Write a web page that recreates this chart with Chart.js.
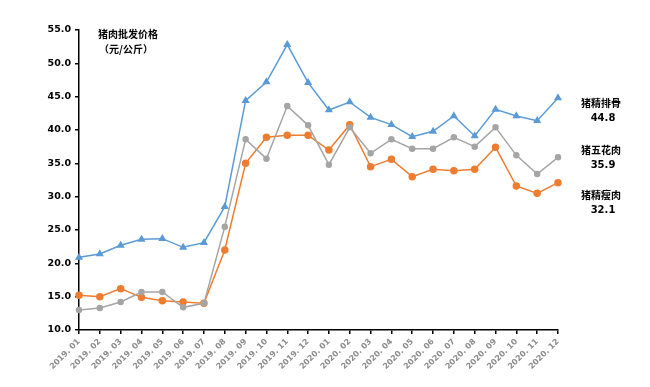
<!DOCTYPE html>
<html>
<head>
<meta charset="utf-8">
<script src="https://cdn.jsdelivr.net/npm/chart.js@4.4.1/dist/chart.umd.min.js"></script>
<style>
  html, body { margin: 0; padding: 0; background: #fff; }
  #wrap { width: 650px; height: 387px; position: relative; }
</style>
</head>
<body>
<div id="wrap"><canvas id="chart"></canvas></div>
<script>
// Chart data
const months = ['2019.01', '2019.02', '2019.03', '2019.04', '2019.05', '2019.06', '2019.07', '2019.08',
    '2019.09', '2019.10', '2019.11', '2019.12', '2020.01', '2020.02', '2020.03', '2020.04',
    '2020.05', '2020.06', '2020.07', '2020.08', '2020.09', '2020.10', '2020.11', '2020.12'];
const ribs = [20.9, 21.4, 22.7, 23.6, 23.7, 22.4, 23.1, 28.5, 44.4, 47.2, 52.8, 47.1,
    43.0, 44.2, 41.9, 40.8, 39.0, 39.8, 42.1, 39.1, 43.1, 42.1, 41.4, 44.8];
const belly = [13.0, 13.3, 14.2, 15.7, 15.7, 13.4, 14.0, 25.5, 38.6, 35.7, 43.6, 40.7,
    34.8, 40.4, 36.5, 38.6, 37.2, 37.2, 38.9, 37.5, 40.4, 36.2, 33.4, 35.9];
const lean = [15.2, 15.0, 16.2, 14.9, 14.4, 14.2, 14.0, 22.0, 35.0, 38.9, 39.2, 39.2,
    37.0, 40.8, 34.5, 35.6, 33.0, 34.1, 33.9, 34.1, 37.4, 31.6, 30.5, 32.1];
const seriesNames = ['猪精排骨', '猪五花肉', '猪精瘦肉'];
const yTicks = [10, 15, 20, 25, 30, 35, 40, 45, 50, 55];

const labelFont = 'bold 10px "Noto Sans CJK SC", sans-serif';

// Text labels: chart title and end-of-line series names
const annotations = {
    id: 'annotations',
    afterDraw(chart) {
        const ctx = chart.ctx;
        const y = chart.scales.y;
        ctx.save();
        ctx.fillStyle = '#000';
        ctx.textAlign = 'center';
        ctx.textBaseline = 'middle';
        ctx.font = labelFont;
        ctx.fillText('猪肉批发价格', 128, 34);
        ctx.fillText('（元/公斤）', 126, 49);

        const offsets = [5, -7, 13];
        chart.data.datasets.forEach((ds, i) => {
            const last = ds.data[ds.data.length - 1];
            const py = y.getPixelForValue(last) + offsets[i];
            ctx.font = labelFont;
            ctx.fillText(seriesNames[i], 601, py);
            ctx.font = 'bold 10px "DejaVu Sans", sans-serif';
            ctx.fillText(last.toFixed(1), 603, py + 15);
        });
        ctx.restore();
    }
};

new Chart(document.getElementById('chart'), {
    type: 'line',
    data: {
        labels: months,
        datasets: [
            {
                label: seriesNames[0],
                data: ribs,
                borderColor: '#5B9BD5',
                backgroundColor: '#5B9BD5',
                borderWidth: 1.5,
                pointStyle: 'triangle',
                pointRadius: 3.2
            },
            {
                label: seriesNames[1],
                data: belly,
                borderColor: '#A5A5A5',
                backgroundColor: '#A5A5A5',
                borderWidth: 1.5,
                pointStyle: 'circle',
                pointRadius: 2.5
            },
            {
                label: seriesNames[2],
                data: lean,
                borderColor: '#ED7D31',
                backgroundColor: '#ED7D31',
                borderWidth: 1.5,
                pointStyle: 'circle',
                pointRadius: 3
            }
        ]
    },
    options: {
        responsive: true,
        maintainAspectRatio: false,
        animation: false,
        layout: { padding: { top: 30, right: 92, left: 0, bottom: 0 } },
        plugins: {
            legend: { display: false },
            tooltip: { enabled: false }
        },
        scales: {
            x: {
                offset: false,
                border: { color: '#000', width: 1.5 },
                grid: { display: true, drawOnChartArea: false, drawTicks: true, tickLength: 4, color: '#000', lineWidth: 1.5 },
                ticks: {
                    color: '#8c8c8c',
                    font: { family: '"DejaVu Sans", sans-serif', size: 8, weight: 'bold' },
                    minRotation: 45,
                    maxRotation: 45,
                    autoSkip: false,
                    padding: 3,
                    callback: (v, i) => months[i].replace('.', '. ')
                },
                afterFit: (s) => { s.height = 57; }
            },
            y: {
                min: 10,
                max: 55,
                border: { color: '#000', width: 1.5 },
                grid: { display: true, drawOnChartArea: false, drawTicks: true, tickLength: 4, color: '#000', lineWidth: 1.5 },
                afterBuildTicks: (s) => { s.ticks = yTicks.map(v => ({ value: v })); },
                ticks: {
                    color: '#000',
                    font: { family: '"DejaVu Sans", sans-serif', size: 9.5, weight: 'bold' },
                    padding: 4,
                    callback: (v) => v.toFixed(1)
                },
                afterFit: (s) => { s.width = 79; }
            }
        }
    },
    plugins: [annotations]
});
</script>
</body>
</html>
